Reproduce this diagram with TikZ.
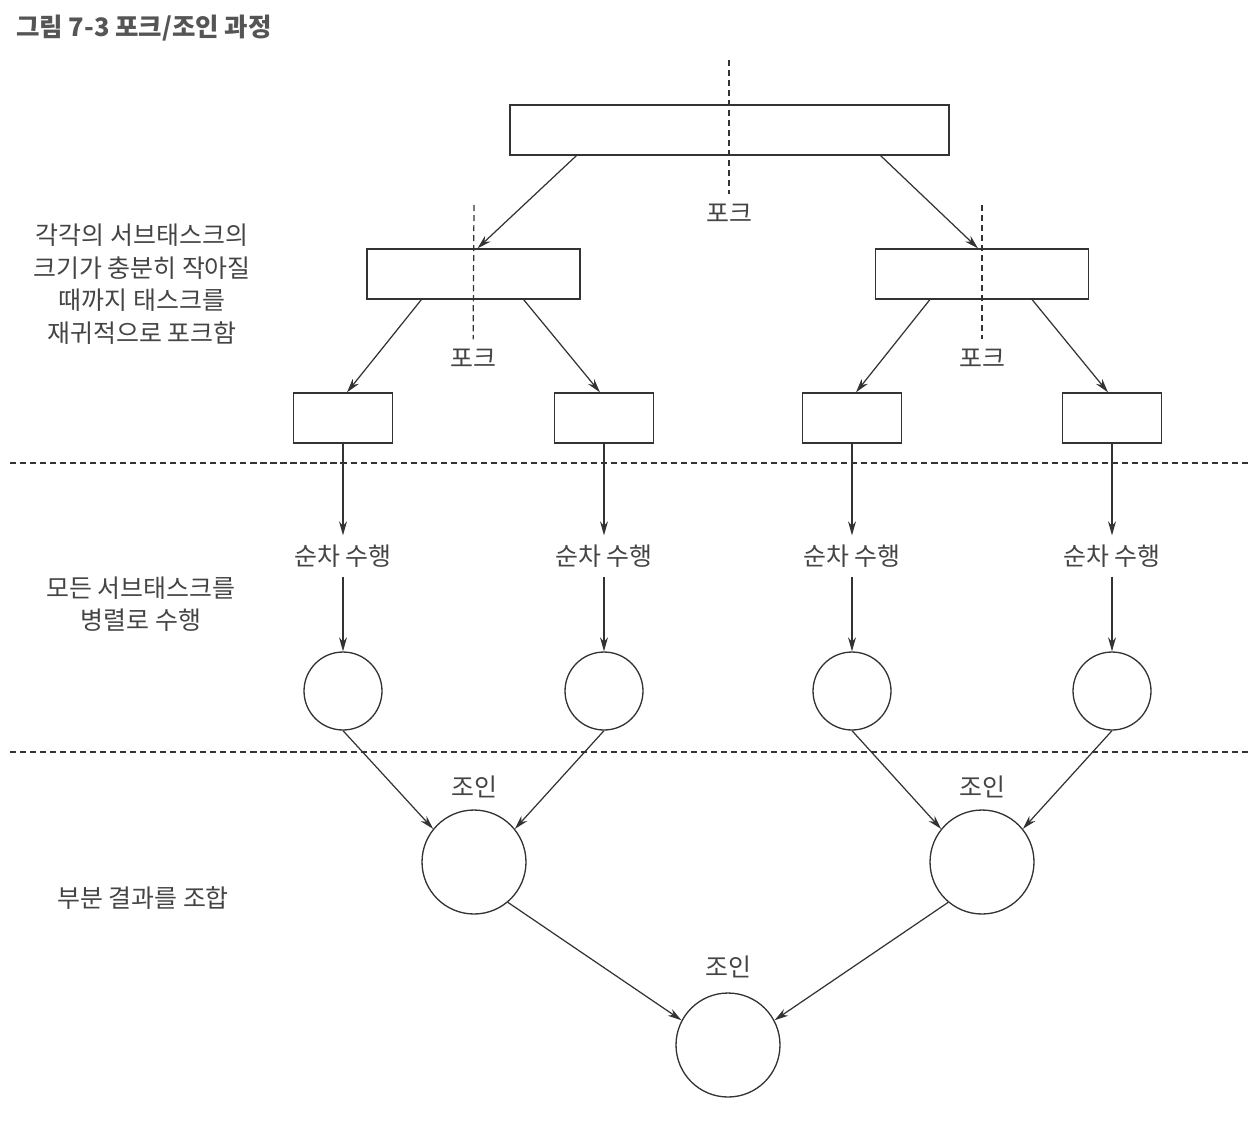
\documentclass[tikz,border=0pt]{standalone}
\usepackage{fontspec}
\setmainfont{Noto Sans CJK KR}
\usetikzlibrary{arrows.meta}
\definecolor{inkgray}{HTML}{333333}
\definecolor{textgray}{HTML}{444444}
\definecolor{titlegray}{HTML}{555555}

\begin{document}
\begin{tikzpicture}[x=0.02cm, y=-0.02cm, align=center]
\tikzstyle{bigbox} = [rectangle, minimum width=8.78cm, minimum height=1cm, inner sep=0, draw=inkgray, line width=0.75pt]
\tikzstyle{midbox} = [bigbox, minimum width=4.26cm]
\tikzstyle{smallbox} = [bigbox, minimum width=1.98cm]
\tikzstyle{part} = [circle, minimum size=1.56cm, inner sep=0, draw=inkgray, line width=0.75pt]
\tikzstyle{joinc} = [part, minimum size=2.08cm]
\tikzstyle{label} = [text=textgray, font=\fontsize{14.2}{18.5}\selectfont, inner sep=0.18cm]
\tikzstyle{note} = [label, inner sep=0]
\tikzstyle{arrow} = [draw=inkgray, line width=0.7pt, -{Stealth[length=8pt,width=4.5pt]}]
\tikzstyle{cut} = [draw=inkgray, line width=0.7pt, dash pattern=on 3.5pt off 2.2pt]
\useasboundingbox (0,0) rectangle (1260,1120);
    \path
        (10, 28) node[anchor=west, text=titlegray, font=\fontsize{14.5}{16}\selectfont\bfseries] (title) {그림 7-3 포크/조인 과정}
        (729.5, 130) node[bigbox] (top) {}
        (473.5, 274) node[midbox] (ml) {}
        (982, 274) node[midbox] (mr) {}
        (343, 418) node[smallbox] (s1) {}
        (604, 418) node[smallbox] (s2) {}
        (852, 418) node[smallbox] (s3) {}
        (1112, 418) node[smallbox] (s4) {}
        (343, 556) node[label] (r1) {순차 수행}
        (604, 556) node[label] (r2) {순차 수행}
        (852, 556) node[label] (r3) {순차 수행}
        (1112, 556) node[label] (r4) {순차 수행}
        (343, 691) node[part] (c1) {}
        (604, 691) node[part] (c2) {}
        (852, 691) node[part] (c3) {}
        (1112, 691) node[part] (c4) {}
        (474, 787) node[label] (jl1) {조인}
        (982, 787) node[label] (jl2) {조인}
        (728, 967) node[label] (jl3) {조인}
        (474, 862) node[joinc] (j1) {}
        (982, 862) node[joinc] (j2) {}
        (728, 1045) node[joinc] (b) {}
        (729, 213) node[label] (f0) {포크}
        (473, 358) node[label] (f1) {포크}
        (982, 358) node[label] (f2) {포크}
        (142, 284) node[note] (n1) {각각의 서브태스크의\\크기가 충분히 작아질\\때까지 태스크를\\재귀적으로 포크함}
        (141, 604) node[note] (n2) {모든 서브태스크를\\병렬로 수행}
        (143, 898) node[note] (n3) {부분 결과를 조합};

    % fork cuts and level separators
    \coordinate (ct0) at (729, 60);
    \coordinate (ct1) at (474, 205);
    \coordinate (ct2) at (982, 205);
    \coordinate (sepa1) at (10, 463);
    \coordinate (sepa2) at (1248, 463);
    \coordinate (sepb1) at (10, 752);
    \coordinate (sepb2) at (1248, 752);
    \draw [cut] (ct0) -- (f0);
    \draw [cut] (ct1) -- (f1);
    \draw [cut] (ct2) -- (f2);
    \draw [cut] (sepa1) -- (sepa2);
    \draw [cut] (sepb1) -- (sepb2);

    % fork
    \draw [arrow] ([xshift=1.34cm]top.south west) -- ([xshift=0.08cm]ml.north);
    \draw [arrow] ([xshift=-1.38cm]top.south east) -- ([xshift=-0.08cm]mr.north);
    \draw [arrow] ([xshift=1.1cm]ml.south west) -- ([xshift=0.08cm]s1.north);
    \draw [arrow] ([xshift=-1.14cm]ml.south east) -- ([xshift=-0.08cm]s2.north);
    \draw [arrow] ([xshift=1.1cm]mr.south west) -- ([xshift=0.08cm]s3.north);
    \draw [arrow] ([xshift=-1.14cm]mr.south east) -- ([xshift=-0.08cm]s4.north);

    % run
    \draw [arrow] (s1) -- (r1);
    \draw [arrow] (s2) -- (r2);
    \draw [arrow] (s3) -- (r3);
    \draw [arrow] (s4) -- (r4);
    \draw [arrow] (r1) -- (c1);
    \draw [arrow] (r2) -- (c2);
    \draw [arrow] (r3) -- (c3);
    \draw [arrow] (r4) -- (c4);

    % join
    \draw [arrow] (c1.south) -- (j1.141);
    \draw [arrow] (c2.south) -- (j1.39);
    \draw [arrow] (c3.south) -- (j2.141);
    \draw [arrow] (c4.south) -- (j2.39);
    \draw [arrow] (j1.-50) -- (b.152);
    \draw [arrow] (j2.-130) -- (b.28);
\end{tikzpicture}
\end{document}
